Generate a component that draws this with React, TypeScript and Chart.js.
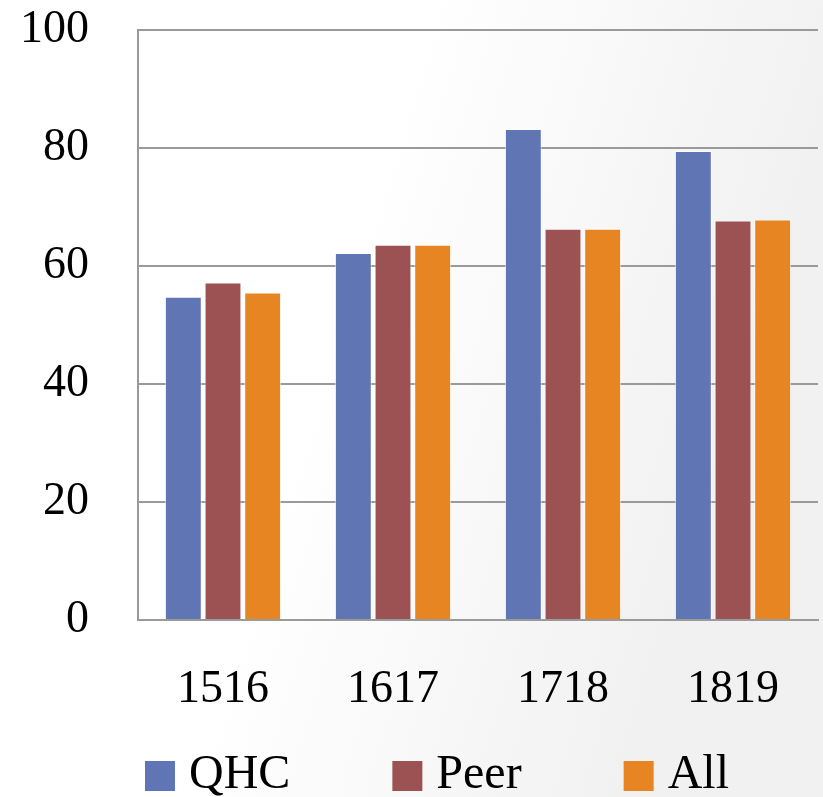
import React, { useEffect, useRef } from "react";
import { Chart, registerables } from "chart.js";

Chart.register(...registerables);

const categories = ["1516", "1617", "1718", "1819"];
const seriesNames = ["QHC", "Peer", "All"];
const qhcValues = [54.8, 62.2, 83.2, 79.5];
const peerValues = [57.2, 63.6, 66.3, 67.7];
const allValues = [55.5, 63.6, 66.3, 67.9];
const seriesColors = ["#6075b4", "#9c5152", "#e68522"];
const yTicks = [0, 20, 40, 60, 80, 100];

const FONT = "'Liberation Serif', 'DejaVu Serif', serif";

const bgPlugin = {
  id: "bgGradient",
  beforeDraw(chart: any) {
    const { ctx, width, height } = chart;
    ctx.save();
    const g = ctx.createLinearGradient(430, 0, width, 120);
    g.addColorStop(0, "#ffffff");
    g.addColorStop(1, "#f1f1f1");
    ctx.fillStyle = g;
    ctx.fillRect(0, 0, width, height);
    ctx.restore();
  },
};

const legendPlugin = {
  id: "customLegend",
  afterDraw(chart: any) {
    const { ctx } = chart;
    const box = 30;
    const gapText = 14;
    const gapItem = 102;
    ctx.save();
    ctx.font = `48px ${FONT}`;
    ctx.textBaseline = "middle";
    const items = chart.data.datasets.map((d: any) => ({
      label: d.label,
      color: d.backgroundColor,
      w: ctx.measureText(d.label).width,
    }));
    const total =
      items.reduce((s: number, it: any) => s + box + gapText + it.w, 0) +
      gapItem * (items.length - 1);
    let x = 437 - total / 2;
    const cy = 776;
    items.forEach((it: any) => {
      ctx.fillStyle = it.color;
      ctx.fillRect(x, cy - box / 2, box, box);
      ctx.fillStyle = "#000";
      ctx.fillText(it.label, x + box + gapText, cy - 1);
      x += box + gapText + it.w + gapItem;
    });
    ctx.restore();
  },
};

export default function App() {
  const ref = useRef<HTMLCanvasElement>(null);
  useEffect(() => {
    document.body.style.margin = "0";
    const values = [qhcValues, peerValues, allValues];
    const chart = new Chart(ref.current!, {
      type: "bar",
      data: {
        labels: categories,
        datasets: seriesNames.map((name, i) => ({
          label: name,
          data: values[i],
          backgroundColor: seriesColors[i],
          borderColor: "rgba(255,255,255,0.6)",
          borderWidth: 1,
          barPercentage: 0.93,
          categoryPercentage: 0.7,
        })),
      },
      options: {
        animation: false,
        responsive: false,
        devicePixelRatio: 1,
        layout: { padding: { top: 30, left: 20, right: 5, bottom: 80 } },
        plugins: {
          legend: { display: false },
          tooltip: { enabled: false },
        },
        scales: {
          x: {
            grid: { display: false, drawTicks: false },
            border: { display: true, color: "#9a9a9a", width: 2 },
            ticks: { color: "#000", font: { family: FONT, size: 46 }, padding: 42 },
            afterFit: (s: any) => {
              s.height = 97;
              s.paddingLeft = 0;
              s.paddingRight = 0;
            },
          },
          y: {
            min: 0,
            max: 100,
            afterBuildTicks: (scale: any) => {
              scale.ticks = yTicks.map((v) => ({ value: v }));
            },
            grid: { color: "#9a9a9a", lineWidth: 2, drawTicks: false },
            border: { display: true, color: "#9a9a9a", width: 2 },
            ticks: { color: "#000", font: { family: FONT, size: 46 }, padding: 49 },
            afterFit: (s: any) => {
              s.width = 118;
              s.paddingTop = 0;
              s.paddingBottom = 0;
            },
          },
        },
      },
      plugins: [bgPlugin, legendPlugin],
    });
    return () => chart.destroy();
  }, []);
  return <canvas ref={ref} width={823} height={797} style={{ display: "block" }} />;
}
